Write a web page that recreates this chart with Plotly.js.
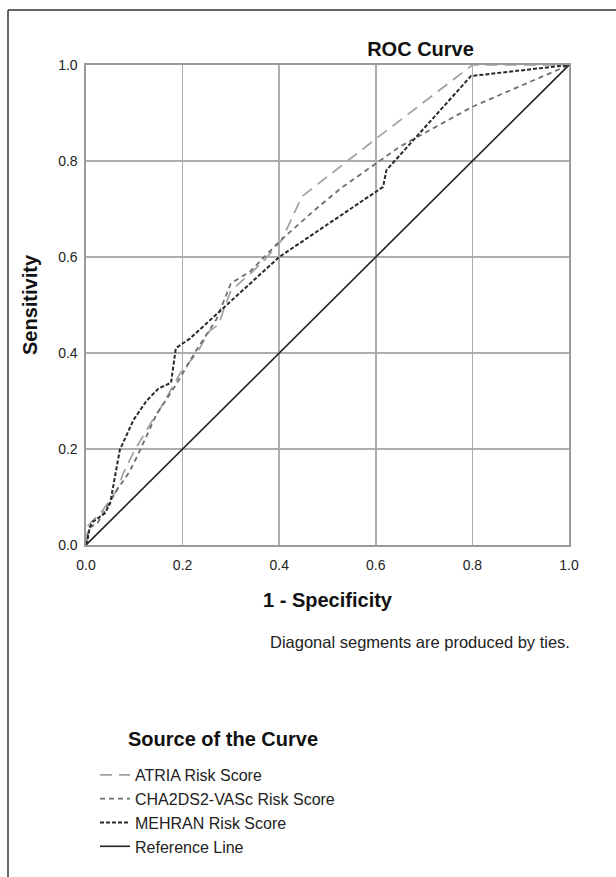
<!DOCTYPE html>
<html>
<head>
<meta charset="utf-8">
<script src="https://cdn.plot.ly/plotly-3.0.1.min.js"></script>
<style>
html,body{margin:0;padding:0;background:#fff;}
#chart{width:616px;height:877px;}
</style>
</head>
<body>
<div id="chart"></div>
<script>
// ---- data ----
const seriesNames = ["ATRIA Risk Score", "CHA2DS2-VASc Risk Score", "MEHRAN Risk Score", "Reference Line"];

const atriaX = [0, 0.004, 0.012, 0.03, 0.05, 0.064, 0.077, 0.101, 0.136, 0.160, 0.195, 0.230, 0.255, 0.275, 0.285, 0.30, 0.34, 0.37, 0.405, 0.447, 0.60, 0.80, 1.0];
const atriaY = [0, 0.04, 0.049, 0.066, 0.094, 0.115, 0.149, 0.198, 0.257, 0.295, 0.358, 0.40, 0.445, 0.46, 0.49, 0.53, 0.565, 0.594, 0.635, 0.726, 0.846, 1.0, 1.0];

const chaX = [0, 0.006, 0.024, 0.041, 0.065, 0.089, 0.106, 0.146, 0.187, 0.228, 0.27, 0.30, 0.34, 0.40, 0.47, 0.53, 0.60, 0.65, 0.80, 1.0];
const chaY = [0, 0.035, 0.046, 0.075, 0.116, 0.151, 0.185, 0.272, 0.335, 0.405, 0.47, 0.545, 0.57, 0.632, 0.695, 0.745, 0.795, 0.83, 0.913, 1.0];

const mehranX = [0, 0.003, 0.008, 0.015, 0.039, 0.050, 0.070, 0.098, 0.125, 0.150, 0.176, 0.186, 0.215, 0.40, 0.615, 0.622, 0.797, 1.0];
const mehranY = [0, 0.01, 0.038, 0.049, 0.066, 0.087, 0.198, 0.26, 0.30, 0.326, 0.338, 0.41, 0.43, 0.60, 0.746, 0.781, 0.977, 1.0];

const refX = [0, 1];
const refY = [0, 1];

const tickVals = [0, 0.2, 0.4, 0.6, 0.8, 1.0];
const tickText = ["0.0", "0.2", "0.4", "0.6", "0.8", "1.0"];

// ---- chart ----
const FONT = 'Arial, "Liberation Sans", sans-serif';

const traces = [
  {x: atriaX, y: atriaY, name: seriesNames[0], mode: 'lines',
   line: {color: '#a0a0a0', width: 1.7, dash: '12px,7px'}},
  {x: chaX, y: chaY, name: seriesNames[1], mode: 'lines',
   line: {color: '#6e6e6e', width: 1.8, dash: '5px,4px'}},
  {x: mehranX, y: mehranY, name: seriesNames[2], mode: 'lines',
   line: {color: '#2a2a2a', width: 2, dash: '4px,2px'}},
  {x: refX, y: refY, name: seriesNames[3], mode: 'lines',
   line: {color: '#222222', width: 1.6}}
];

const axisCommon = {
  range: [0, 1],
  tickvals: tickVals,
  ticktext: tickText,
  showgrid: true,
  gridcolor: '#adadad',
  gridwidth: 1.6,
  zeroline: false,
  showline: true,
  linecolor: '#9a9a9a',
  linewidth: 1.6,
  mirror: true,
  ticks: '',
  tickfont: {family: FONT, size: 14, color: '#222'},
  fixedrange: true
};

const layout = {
  width: 616,
  height: 877,
  paper_bgcolor: '#ffffff',
  plot_bgcolor: '#ffffff',
  margin: {l: 86, r: 47, t: 65, b: 332},
  font: {family: FONT, color: '#222'},
  title: {
    text: '<b>ROC Curve</b>',
    font: {family: FONT, size: 20, color: '#111'},
    xref: 'paper', x: 0.6925, xanchor: 'center',
    yref: 'container', y: 1 - 49 / 877, yanchor: 'middle'
  },
  xaxis: Object.assign({}, axisCommon, {
    title: {text: '<b>1 - Specificity</b>', font: {family: FONT, size: 20, color: '#111'}, standoff: 20},
    automargin: true,
    ticklabelstandoff: 7
  }),
  yaxis: Object.assign({}, axisCommon, {
    title: {text: '<b>Sensitivity</b>', font: {family: FONT, size: 20, color: '#111'}, standoff: 15},
    automargin: true,
    ticklabelstandoff: 4
  }),
  showlegend: true,
  legend: {
    x: (95 - 86) / 483, xanchor: 'left',
    y: (545 - 758) / 480, yanchor: 'top',
    font: {family: FONT, size: 16, color: '#222'},
    bgcolor: 'rgba(0,0,0,0)',
    borderwidth: 0,
    traceorder: 'normal'
  },
  annotations: [
    {text: 'Diagonal segments are produced by ties.', xref: 'paper', yref: 'paper',
     x: (572 - 86) / 483, xanchor: 'right', y: (545 - 642) / 480, yanchor: 'middle',
     showarrow: false, font: {family: FONT, size: 16.5, color: '#222'}},
    {text: '<b>Source of the Curve</b>', xref: 'paper', yref: 'paper',
     x: (126 - 86) / 483, xanchor: 'left', y: (545 - 739) / 480, yanchor: 'middle',
     showarrow: false, font: {family: FONT, size: 20, color: '#111'}}
  ],
  shapes: [
    {type: 'line', xref: 'paper', yref: 'paper',
     x0: (8 - 86) / 483, x1: (616 - 86) / 483, y0: (545 - 10) / 480, y1: (545 - 10) / 480,
     line: {color: '#333', width: 1.5}},
    {type: 'line', xref: 'paper', yref: 'paper',
     x0: (8 - 86) / 483, x1: (8 - 86) / 483, y0: (545 - 10) / 480, y1: (545 - 877) / 480,
     line: {color: '#333', width: 1.5}}
  ]
};

Plotly.newPlot('chart', traces, layout, {displayModeBar: false, staticPlot: true});
</script>
</body>
</html>
